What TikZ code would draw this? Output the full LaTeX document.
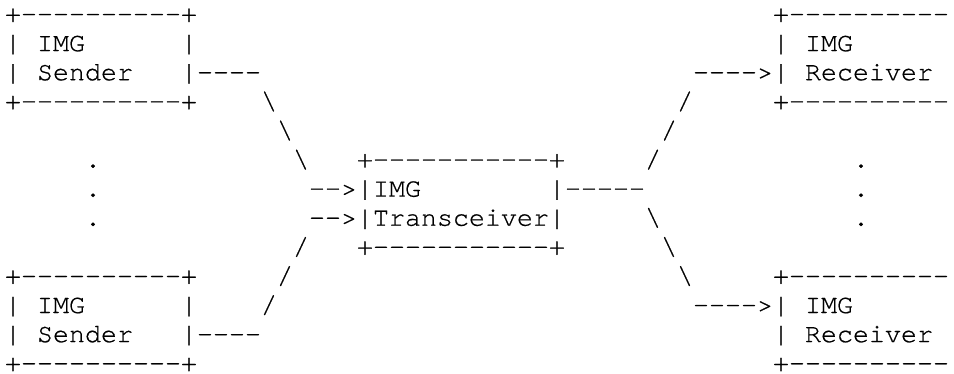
\documentclass[tikz,border=0pt]{standalone}
\usepackage{fontspec}
\setmonofont[FakeBold=0.6]{texgyrecursor-regular.otf}
\usepackage{tikz}

\begin{document}
\begin{tikzpicture}[x=8pt, y=-14.55pt,
  ascii/.style={anchor=base west, inner sep=0pt, outer sep=0pt,
    font=\fontsize{13.333pt}{14.55pt}\selectfont\ttfamily\bfseries}]
  \useasboundingbox (-0.3125, -0.756) rectangle (59.3125, 12.07);

  % Upper sender box
  \node[ascii] (sndAtop) at (0, 0) {+----------+};
  \node[ascii] (sndAl1) at (0, 1) {|};
  \node[ascii] (sndAimg) at (2, 1) {IMG};
  \node[ascii] (sndAr1) at (11, 1) {|};
  \node[ascii] (sndAl2) at (0, 2) {|};
  \node[ascii] (sndAname) at (2, 2) {Sender};
  \node[ascii] (sndAout) at (11, 2) {|----};
  \node[ascii] (sndAbot) at (0, 3) {+----------+};

  % Dots between senders
  \node[ascii] (sndDot1) at (5, 5) {.};
  \node[ascii] (sndDot2) at (5, 6) {.};
  \node[ascii] (sndDot3) at (5, 7) {.};

  % Lower sender box
  \node[ascii] (sndBtop) at (0, 9) {+----------+};
  \node[ascii] (sndBl1) at (0, 10) {|};
  \node[ascii] (sndBimg) at (2, 10) {IMG};
  \node[ascii] (sndBr1) at (11, 10) {|};
  \node[ascii] (sndBl2) at (0, 11) {|};
  \node[ascii] (sndBname) at (2, 11) {Sender};
  \node[ascii] (sndBout) at (11, 11) {|----};
  \node[ascii] (sndBbot) at (0, 12) {+----------+};

  % Links sender -> transceiver
  \node[ascii] (inA1) at (16, 3) {\textbackslash};
  \node[ascii] (inA2) at (17, 4) {\textbackslash};
  \node[ascii] (inA3) at (18, 5) {\textbackslash};
  \node[ascii] (inB1) at (18, 8) {/};
  \node[ascii] (inB2) at (17, 9) {/};
  \node[ascii] (inB3) at (16, 10) {/};

  % Transceiver box
  \node[ascii] (trxTop) at (22, 5) {+-----------+};
  \node[ascii] (trxImg) at (19, 6) {-->|IMG};
  \node[ascii] (trxOut) at (34, 6) {|-----};
  \node[ascii] (trxName) at (19, 7) {-->|Transceiver|};
  \node[ascii] (trxBot) at (22, 8) {+-----------+};

  % Links transceiver -> receivers
  \node[ascii] (outA1) at (40, 5) {/};
  \node[ascii] (outA2) at (41, 4) {/};
  \node[ascii] (outA3) at (42, 3) {/};
  \node[ascii] (outB1) at (40, 7) {\textbackslash};
  \node[ascii] (outB2) at (41, 8) {\textbackslash};
  \node[ascii] (outB3) at (42, 9) {\textbackslash};

  % Upper receiver box
  \node[ascii] (rcvAtop) at (48, 0) {+----------};
  \node[ascii] (rcvAl1) at (48, 1) {|};
  \node[ascii] (rcvAimg) at (50, 1) {IMG};
  \node[ascii] (rcvAin) at (43, 2) {---->|};
  \node[ascii] (rcvAname) at (50, 2) {Receiver};
  \node[ascii] (rcvAbot) at (48, 3) {+----------};

  % Dots between receivers
  \node[ascii] (rcvDot1) at (53, 5) {.};
  \node[ascii] (rcvDot2) at (53, 6) {.};
  \node[ascii] (rcvDot3) at (53, 7) {.};

  % Lower receiver box
  \node[ascii] (rcvBtop) at (48, 9) {+----------};
  \node[ascii] (rcvBin) at (43, 10) {---->|};
  \node[ascii] (rcvBimg) at (50, 10) {IMG};
  \node[ascii] (rcvBl2) at (48, 11) {|};
  \node[ascii] (rcvBname) at (50, 11) {Receiver};
  \node[ascii] (rcvBbot) at (48, 12) {+----------};
\end{tikzpicture}
\end{document}
